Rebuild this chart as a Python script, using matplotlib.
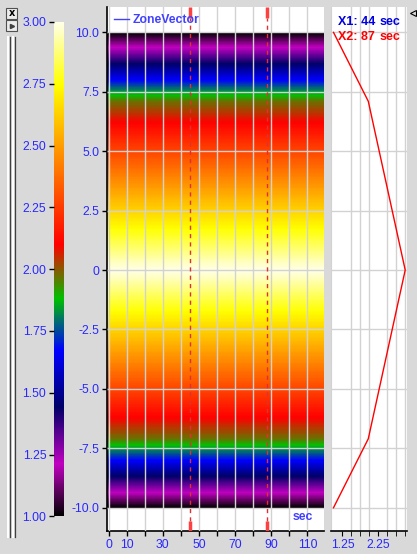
import numpy as np
import matplotlib
matplotlib.use("Agg")
import matplotlib.pyplot as plt
from matplotlib.colors import LinearSegmentedColormap, Normalize
from matplotlib.cm import ScalarMappable
from matplotlib.lines import Line2D
from matplotlib.patches import Rectangle

plt.rcParams['font.family'] = ['Liberation Sans', 'DejaVu Sans']

# profile of the zone vector (value along y), same for every x
profile_y = [-10.0, -7.1, 0.0, 7.1, 10.0]
profile_v = [1.0, 1.97, 3.0, 1.97, 1.0]

# colour scale nodes (value, colour)
cmap_values = [1.00, 1.21, 1.44, 1.67, 1.88, 2.10, 2.75, 3.00]
cmap_colors = ['#000000', '#c000c0', '#000068', '#0000ff', '#00c000',
               '#ff0000', '#ffff00', '#ffffe8']

cbar_ticks = [1.00, 1.25, 1.50, 1.75, 2.00, 2.25, 2.50, 2.75, 3.00]

x_ticks = [0, 10, 20, 30, 40, 50, 60, 70, 80, 90, 100, 110]
x_labels = ['0', '10', '', '30', '', '50', '', '70', '', '90', '', '110']
y_ticks = [-10.0, -7.5, -5.0, -2.5, 0.0, 2.5, 5.0, 7.5, 10.0]
y_labels = ['-10.0', '-7.5', '-5.0', '-2.5', '0', '2.5', '5.0', '7.5', '10.0']

p_ticks = [1.25, 2.25]
p_minor = [1.25, 1.5, 1.75, 2.0, 2.25, 2.5, 2.75, 3.0]

cursor_x = [44.8, 87.9]
cursor_colors = ['#0000e0', '#ff0000']

W, H = 417, 554
BG = '#d9d9d9'
GRID = '#d2d2d2'
TXT = '#2828ff'

def fx(x):
    return x / W

def fy(y):
    return 1 - y / H

pos = [(v - 1.0) / 2.0 for v in cmap_values]
cmap = LinearSegmentedColormap.from_list('zone', list(zip(pos, cmap_colors)), N=512)
norm = Normalize(1.0, 3.0)

fig = plt.figure(figsize=(W / 100, H / 100), dpi=100, facecolor=BG)

ax = fig.add_axes([fx(107), fy(531), fx(217), (531 - 6.7) / H])
ax2 = fig.add_axes([fx(331), fy(531), fx(76), (531 - 6.7) / H], sharey=ax)
cax = fig.add_axes([fx(54), fy(516.3), fx(10), (516.3 - 22) / H])

# --- main heat map ---
xlim = (-0.9, 119.2)
Z = np.column_stack([profile_v, profile_v])
ax.contourf([xlim[0], xlim[1] + 1], profile_y, Z, levels=np.linspace(1, 3, 241),
            cmap=cmap, norm=norm, antialiased=False, extend='both', zorder=0)
ax.set_xlim(*xlim)
ax.set_ylim(-10.98, 11.08)
ax.set_facecolor('white')
ax.set_xticks(x_ticks)
ax.set_xticklabels(x_labels)
ax.set_yticks(y_ticks)
ax.set_yticklabels(y_labels)
ax.tick_params(colors='black', labelcolor=TXT, labelsize=8.8, length=3.5, width=1, pad=2)
ax.grid(True, color=GRID, lw=1, zorder=1)
ax.set_axisbelow(False)
for s in ['top', 'right']:
    ax.spines[s].set_visible(False)
for s in ['left', 'bottom']:
    ax.spines[s].set_linewidth(1.2)

leg = ax.legend(handles=[Line2D([], [], color='#4040ff', lw=1)], labels=['ZoneVector'],
                loc='upper left', frameon=False, prop={'size': 8.8, 'weight': 'bold'},
                handlelength=1.2, handletextpad=0.3, borderaxespad=0.2,
                labelcolor='#4040ff')
ax.text(0.95, 0.027, 'sec', transform=ax.transAxes, ha='right', va='center',
        color='#4040ff', fontsize=8.8, fontweight='bold')

for cx in cursor_x:
    ax.axvline(cx, ymin=0.02, ymax=0.978, color='#e03030', lw=1,
               ls=(0, (3, 3)), zorder=3)
    ax.axvline(cx, ymin=0.978, ymax=1.0, color='#ff4040', lw=2.5,
               solid_capstyle='butt', zorder=4)
    ax.axvline(cx, ymin=0.0, ymax=0.019, color='#ff4040', lw=2.5,
               solid_capstyle='butt', zorder=4)

# --- profile panel ---
ax2.plot(profile_v, profile_y, color='red', lw=1, zorder=3)
ax2.set_xlim(0.93, 3.05)
ax2.set_facecolor('white')
ax2.set_xticks(p_ticks)
ax2.set_xticklabels(['%.2f' % t for t in p_ticks])
ax2.set_xticks(p_minor, minor=True)
ax2.tick_params(axis='x', which='both', labelcolor=TXT, labelsize=8.8, length=3.5, pad=2)
ax2.tick_params(axis='y', length=0, labelleft=False)
ax2.grid(True, which='both', color=GRID, lw=1)
ax2.grid(False, axis='x', which='major')
ax2.grid(True, axis='x', which='minor', color=GRID, lw=1)
for s in ['top', 'right']:
    ax2.spines[s].set_visible(False)
ax2.spines['left'].set_color(GRID)
ax2.spines['bottom'].set_linewidth(1.2)

for i, cx in enumerate(cursor_x):
    yy = 0.971 - i * 0.028
    ax2.text(0.09, yy, 'X%d: %d' % (i + 1, int(cx)), transform=ax2.transAxes,
             color=cursor_colors[i], fontsize=9, fontweight='bold', va='center')
    ax2.text(0.64, yy, 'sec', transform=ax2.transAxes,
             color=cursor_colors[i], fontsize=9, fontweight='bold', va='center')

# --- colour bar ---
cb = fig.colorbar(ScalarMappable(norm=norm, cmap=cmap), cax=cax, ticks=cbar_ticks)
cb.outline.set_visible(False)
cax.yaxis.set_ticks_position('left')
cax.set_yticklabels(['%.2f' % t for t in cbar_ticks])
cax.tick_params(labelcolor=TXT, labelsize=8.8, length=3.5, width=1, pad=2)

# --- window chrome ---
for yt, yb in [(8.5, 18.5), (20.5, 31)]:
    fig.add_artist(Rectangle((fx(6), fy(yb)), fx(11), (yb - yt) / H, facecolor='#ececec',
                             edgecolor='#505050', lw=0.8, transform=fig.transFigure))
fig.text(fx(11.5), fy(13.3), 'x', ha='center', va='center', fontsize=7,
         fontweight='bold', family='DejaVu Sans')
fig.add_artist(Line2D([fx(11.5)], [fy(25.8)], marker='>', ms=3, color='#404040',
                      transform=fig.transFigure))
for xw, xd in [(8.2, 9.6), (13.2, 14.8)]:
    fig.add_artist(Line2D([fx(xw), fx(xw)], [fy(36.7), fy(537)], color='white', lw=1.4,
                          transform=fig.transFigure))
    fig.add_artist(Line2D([fx(xd), fx(xd)], [fy(36.7), fy(537)], color='#404040', lw=0.9,
                          transform=fig.transFigure))
fig.add_artist(Line2D([fx(412.5)], [fy(12.5)], marker='<', ms=5, mfc='none', mec='black',
                      mew=0.8, transform=fig.transFigure))

fig.savefig('out.png', dpi=100, facecolor=BG)
